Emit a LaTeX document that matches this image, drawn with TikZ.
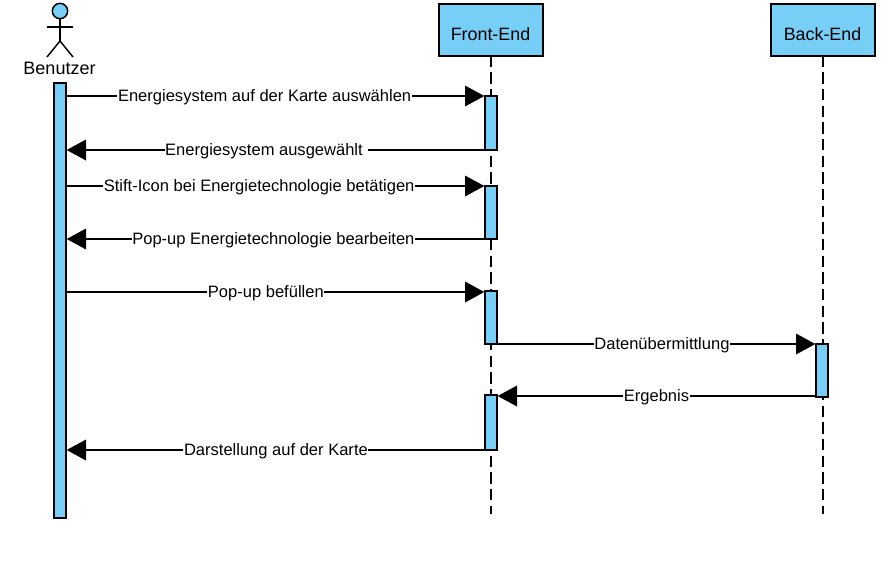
\documentclass[tikz,border=0pt]{standalone}
\usepackage{fontspec}
\setmainfont{Liberation Sans}
\usetikzlibrary{arrows.meta}
\definecolor{skyfill}{HTML}{77CEF6}
\newcommand{\hdtext}[1]{\smash{\raisebox{-8.6pt}{#1}}}
\tikzset{
  hd/.style={draw=black,fill=skyfill,line width=1.5pt,outer sep=0pt,minimum width=78pt,minimum height=39pt,inner sep=0pt,font=\fontsize{13.4pt}{15pt}\selectfont},
  act/.style={draw=black,fill=skyfill,line width=1.5pt,outer sep=0pt,minimum width=9pt,inner sep=0pt},
  life/.style={draw=black,line width=1.5pt,dash pattern=on 8.5pt off 4pt},
  msg/.style={draw=black,line width=1pt,-{Triangle[length=14.5pt,width=15.5pt]},shorten >=0.5pt},
  lbl/.style={fill=white,inner sep=0.4pt,yshift=-1pt,font=\fontsize{12.4pt}{14pt}\selectfont},
  limb/.style={draw=black,line width=1.1pt}
}
\begin{document}
\begin{tikzpicture}[x=0.75pt,y=-0.75pt]
\useasboundingbox (0,0) rectangle (891,561);
% actor
\node[circle,draw=black,fill=skyfill,line width=1.1pt,outer sep=0pt,minimum size=11.5pt,inner sep=0pt] (head) at (60,11) {};
\coordinate (hip) at (60,41);
\coordinate (armL) at (47,27);
\coordinate (armR) at (73,27);
\coordinate (legL) at (47,57);
\coordinate (legR) at (73,57);
\draw[limb] (head.south) -- (hip);
\draw[limb] (armL) -- (armR);
\draw[limb] (legL) -- (hip) -- (legR);
\node[font=\fontsize{13.5pt}{15pt}\selectfont,inner sep=0pt] (ben) at (59.5,68) {Benutzer};
% user bar
\node[act,minimum height=326.25pt] (user) at (60,300.5) {};
% headers
\node[hd] (fe) at (490.5,29.5) {\hdtext{Front-End}};
\node[hd] (be) at (822.5,29.5) {\hdtext{Back-End}};
% lifeline ends
\coordinate (feEnd) at (490.5,514);
\coordinate (beEnd) at (822.5,514);
\draw[life] (fe.south) -- (feEnd);
\draw[life] (be.south) -- (beEnd);
% activations
\node[act,minimum height=40.5pt] (f1) at (491,123) {};
\node[act,minimum height=39.75pt] (f2) at (491,212.5) {};
\node[act,minimum height=39.75pt] (f3) at (491,317.5) {};
\node[act,minimum height=41.25pt] (f4) at (491,422.5) {};
\node[act,minimum height=39.75pt] (b1) at (822,370.5) {};
% points on the bars
\coordinate (u1) at (66,96);
\coordinate (u2) at (66,150);
\coordinate (u3) at (66,186);
\coordinate (u4) at (66,239);
\coordinate (u5) at (66,292);
\coordinate (u8) at (66,450);
\coordinate (f3in) at (485,292);
\coordinate (b1out) at (816,396);
\coordinate (f4in) at (497,396);
% messages
\draw[msg] (u1) -- (f1.north west) node[lbl,pos=0.474] (m1) {Energiesystem auf der Karte auswählen};
\draw[msg] (f1.south west) -- (u2) node[lbl,pos=0.522] (m2) {Energiesystem ausgewählt\ \null};
\draw[msg] (u3) -- (f2.north west) node[lbl,pos=0.461] (m3) {Stift-Icon bei Energietechnologie betätigen};
\draw[msg] (f2.south west) -- (u4) node[lbl,pos=0.505] (m4) {Pop-up Energietechnologie bearbeiten};
\draw[msg] (u5) -- (f3in) node[lbl,pos=0.477] (m5) {Pop-up befüllen};
\draw[msg] (f3.south east) -- (b1.north west) node[lbl,pos=0.517] (m6) {Datenübermittlung};
\draw[msg] (b1out) -- (f4in) node[lbl,pos=0.5] (m7) {Ergebnis};
\draw[msg] (f4.south west) -- (u8) node[lbl,pos=0.499] (m8) {Darstellung auf der Karte};
\end{tikzpicture}
\end{document}
